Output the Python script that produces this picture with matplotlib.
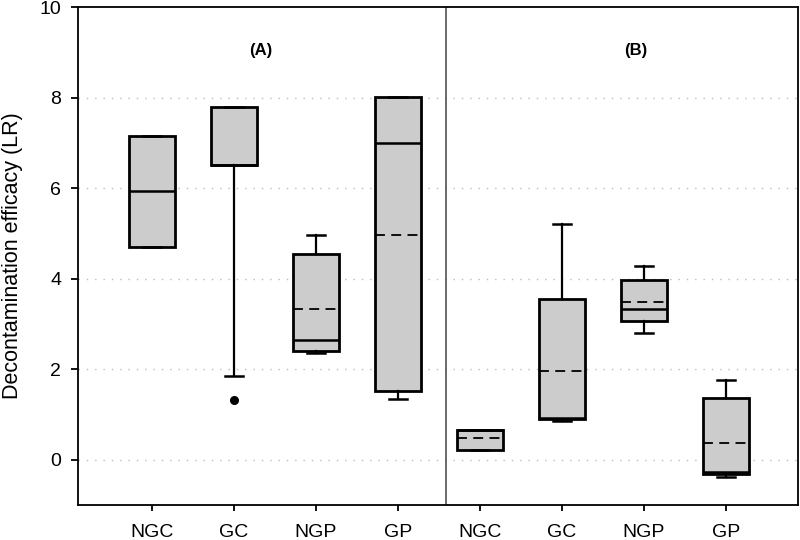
import numpy as np
import matplotlib
matplotlib.use("Agg")
import matplotlib.pyplot as plt

plt.rcParams['font.family'] = ['Liberation Sans', 'DejaVu Sans']

# group labels (A: left panel, B: right panel)
labels = ['NGC', 'GC', 'NGP', 'GP', 'NGC', 'GC', 'NGP', 'GP']

# box statistics (LR units)
q1 = [4.70, 6.50, 2.41, 1.51, 0.21, 0.89, 3.06, -0.31]
q3 = [7.15, 7.79, 4.55, 8.01, 0.66, 3.54, 3.96, 1.37]
medians = [5.93, 6.50, 2.64, 6.99, 0.65, 0.92, 3.34, -0.27]
means = [np.nan, np.nan, 3.32, 4.97, 0.48, 1.95, 3.49, 0.37]
whisk_lo = [4.70, 1.84, 2.35, 1.35, 0.21, 0.85, 2.80, -0.38]
whisk_hi = [7.15, 7.79, 4.96, 8.01, 0.66, 5.20, 4.28, 1.77]
outliers = [[], [1.33], [], [], [], [], [], []]

stats = []
for i in range(len(labels)):
    stats.append({'label': labels[i], 'q1': q1[i], 'q3': q3[i], 'med': medians[i],
                  'mean': means[i], 'whislo': whisk_lo[i], 'whishi': whisk_hi[i],
                  'fliers': outliers[i]})

positions = np.arange(1, len(labels) + 1)

fig = plt.figure(figsize=(8, 5.4), dpi=100)
ax = fig.add_axes([0.0975, 0.0648, 0.9, 0.9222])

ax.bxp(stats, positions=positions, widths=0.55, capwidths=0.23,
       patch_artist=True, showmeans=True, meanline=True,
       boxprops=dict(facecolor='#cccccc', edgecolor='black', linewidth=2),
       medianprops=dict(color='black', linewidth=1.8),
       meanprops=dict(color='black', linewidth=1.3, linestyle=(0, (5.5, 3.5))),
       whiskerprops=dict(color='black', linewidth=1.6),
       capprops=dict(color='black', linewidth=1.8),
       flierprops=dict(marker='o', markerfacecolor='black', markeredgecolor='black',
                       markersize=5.5),
       manage_ticks=False, zorder=3)

# dotted gridlines
for g in [0, 2, 4, 6, 8]:
    ax.axhline(g, color='#bbbbbb', linewidth=1, linestyle=(0, (1, 5)), zorder=1)

# panel separator
ax.axvline(4.58, color='#444444', linewidth=1.1, zorder=2)

ax.text(2.33, 9.05, '(A)', fontsize=12, fontweight='bold', ha='center', va='center')
ax.text(6.9, 9.05, '(B)', fontsize=12, fontweight='bold', ha='center', va='center')

ax.set_xlim(0.098, 8.878)
ax.set_ylim(-1, 10)
ax.set_xticks(positions)
ax.set_xticklabels(labels, fontsize=14)
ax.set_yticks([0, 2, 4, 6, 8, 10])
ax.tick_params(axis='y', labelsize=14, length=5, width=1.3, pad=7)
ax.tick_params(axis='x', length=4.5, width=1.3, pad=9)
for sp in ax.spines.values():
    sp.set_linewidth(1.3)

ax.set_ylabel('Decontamination efficacy (LR)', fontsize=15.5)
ax.yaxis.set_label_coords(-0.076, 0.5)

fig.savefig('out.png', dpi=100)
